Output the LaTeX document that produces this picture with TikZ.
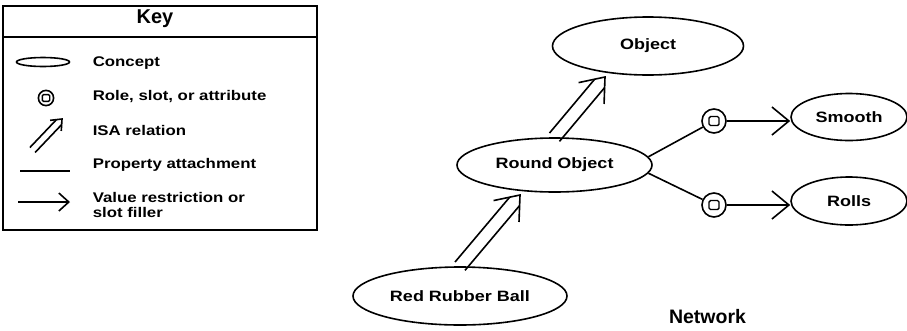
\documentclass[tikz,border=0pt]{standalone}
\usepackage{fontspec}
\setmainfont{Liberation Sans}
\newfontfamily\lblfont[FakeStretch=1.2]{Liberation Sans}
\usetikzlibrary{shapes.geometric, calc, arrows.meta}

% ISA relation: start, tip, half offset, shaft end distance, arm length, arm angle
\newcommand\isaarrow[6]{%
  \coordinate (isaS) at (#1);
  \coordinate (isaT) at (#2);
  \coordinate (isaM) at ($(isaT)!#4!(isaS)$);
  \draw ($(isaS)!#3!90:(isaT)$) -- ($(isaM)!#3!-90:(isaS)$);
  \draw ($(isaS)!#3!-90:(isaT)$) -- ($(isaM)!#3!90:(isaS)$);
  \draw ($(isaT)!#5!#6:(isaS)$) -- (isaT) -- ($(isaT)!#5!-#6:(isaS)$);
}

\begin{document}
\begin{tikzpicture}[x=1pt, y=-1pt, line width=1.6pt,
  concept/.style={ellipse, draw, inner sep=0pt,
    font=\lblfont\bfseries\fontsize{15}{17}\selectfont},
  role/.style={circle, draw, inner sep=0pt, minimum size=24pt},
  rolemark/.style={line width=1.4pt, rounded corners=1.5pt},
  keytext/.style={anchor=base west, inner sep=0pt,
    font=\lblfont\bfseries\fontsize{14}{15}\selectfont},
  filler/.style={-{Straight Barb[length=17pt, width=28pt]}},
]
\useasboundingbox (0,0) rectangle (907,330);

% ---------- Key ----------
\draw (3,6) rectangle (317,230);
\draw (3,37) -- (317,37);
\node[anchor=base, inner sep=0pt, font=\bfseries\fontsize{20}{22}\selectfont] (keytitle) at (155,23) {Key};

\draw (43,62) ellipse [x radius=26.5pt, y radius=4.5pt];
\draw (46,98) circle [radius=7.6pt];
\draw[line width=1.4pt, rounded corners=1.2pt] (42.3,94.6) rectangle (49.7,101.4);
\isaarrow{32.5,150}{62,119}{3.6pt}{4.3pt}{12pt}{40}
\draw (20,171) -- (70,171);
\draw[-{Straight Barb[length=10pt, width=18pt]}] (18,202) -- (70,202);

\node[keytext] (t1) at (92,66) {Concept};
\node[keytext] (t2) at (92,100) {Role, slot, or attribute};
\node[keytext] (t3) at (92,135) {ISA relation};
\node[keytext] (t4) at (92,168) {Property attachment};
\node[keytext, align=left] (t5) at (92,217) {Value restriction or\\slot filler};

% ---------- Network ----------
\node[concept, minimum width=191pt, minimum height=58pt] (obj) at (648,46) {Object};
\node[concept, minimum width=195pt, minimum height=54pt] (ro) at (554.5,165) {Round Object};
\node[concept, minimum width=214pt, minimum height=58pt] (rrb) at (460,296) {Red Rubber Ball};
\node[concept, minimum width=116pt, minimum height=47pt] (smooth) at (849,117) {Smooth};
\node[concept, minimum width=116pt, minimum height=48pt] (rolls) at (849,201) {Rolls};
\node[role] (c1) at (714,121) {};
\node[role] (c2) at (714,205) {};
\draw[rolemark] ($(c1)+(-5,-4.5)$) rectangle ($(c1)+(5,4.5)$);
\draw[rolemark] ($(c2)+(-5,-4.5)$) rectangle ($(c2)+(5,4.5)$);

\draw (ro.5) -- (c1);
\draw (ro.-5) -- (c2);
\draw[filler] (c1) -- (c1 -| smooth.west);
\draw[filler] (c2) -- (c2 -| rolls.west);

\isaarrow{rrb.north}{$(ro.center)+(-34.5,30)$}{6.5pt}{8.3pt}{27pt}{38}
\isaarrow{ro.north}{$(obj.center)+(-43,31)$}{6.5pt}{8.3pt}{27pt}{38}

\node[anchor=base, inner sep=0pt, font=\bfseries\fontsize{19.5}{22}\selectfont] (net) at (707.5,323) {Network};
\end{tikzpicture}
\end{document}
